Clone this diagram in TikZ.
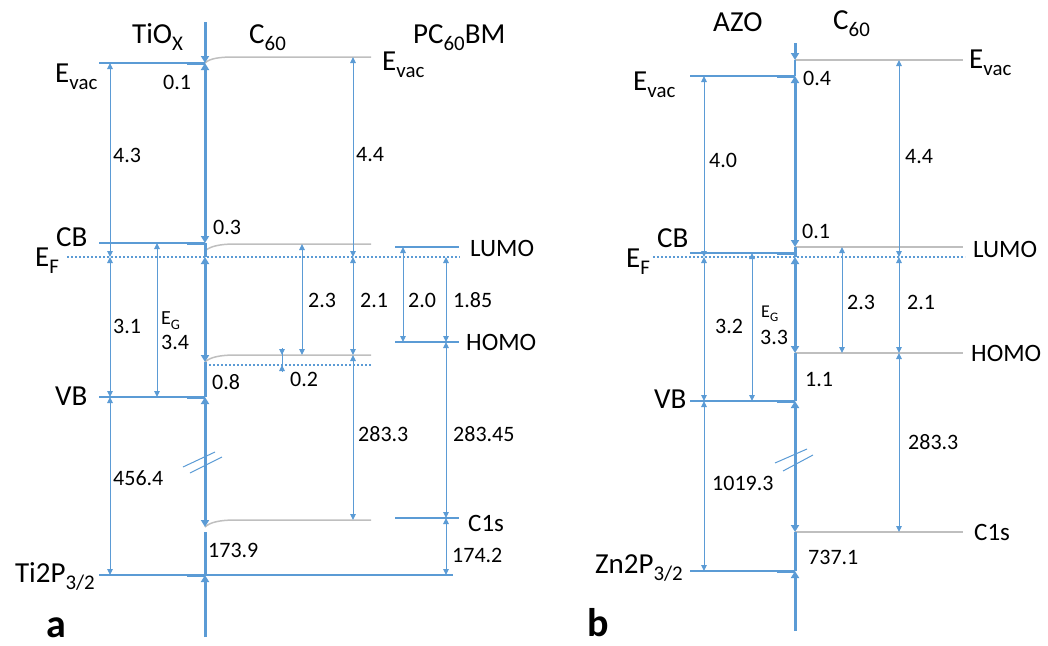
\documentclass[tikz,border=0pt]{standalone}
\usepackage{fontspec}
\setmainfont{Carlito}
\usepackage{graphicx}
\usetikzlibrary{arrows.meta}
\definecolor{lblue}{HTML}{5B9BD5}
\definecolor{lgray}{HTML}{BFBFBF}
\newcommand\lsub[1]{\raisebox{-0.27em}{\scalebox{0.72}{#1}}}
\tikzset{
 lvl/.style={draw=lblue, line width=1.6pt},
 stub/.style={draw=lblue, line width=3pt},
 glvl/.style={draw=lgray, line width=1.5pt},
 efl/.style={draw=lblue, line width=1.6pt, dash pattern=on 1.6pt off 2.4pt},
 mainl/.style={draw=lblue, line width=3pt},
 dim/.style={draw=lblue, line width=1pt, {Triangle[width=5.5pt,length=6pt]}-{Triangle[width=5.5pt,length=6pt]}},
 dimone/.style={draw=lblue, line width=1pt, -{Triangle[width=5.5pt,length=6pt]}},
 mtip/.style={-{Triangle[width=8pt,length=7pt]}},
 mboth/.style={{Triangle[width=8pt,length=7pt]}-{Triangle[width=8pt,length=7pt]}},
 num/.style={inner sep=0pt, anchor=west, font=\fontsize{22}{26}\selectfont},
 big/.style={inner sep=0pt, anchor=base west, font=\fontsize{29}{34}\selectfont},
 rlab/.style={inner sep=0pt, anchor=west, font=\fontsize{25}{30}\selectfont},
 eg/.style={inner sep=0pt, anchor=base west, font=\fontsize{20}{24}\selectfont},
 panel/.style={inner sep=0pt, anchor=base west, text depth=0pt, font=\bfseries\fontsize{40}{48}\selectfont},
 brk/.style={draw=lblue, line width=1pt},
}
\begin{document}
\begin{tikzpicture}[x=1pt,y=-1pt]
\useasboundingbox (0,0) rectangle (1048,645);
% ---------------- panel a ----------------
\coordinate (aM) at (205,0);
\coordinate (aC) at (235,0);
\coordinate (aL) at (99,0);
\coordinate (aSt) at (187,0);
\coordinate (aGR) at (371,0);
\coordinate (aPl) at (395,0);
\coordinate (aPr) at (459,0);
\coordinate (aTiR) at (453,0);
\coordinate (aEFl) at (67,0);
\coordinate (aEFr) at (460,0);
\coordinate (aX1) at (110,0);
\coordinate (aX2) at (157,0);
\coordinate (aX3) at (282,0);
\coordinate (aX4) at (302,0);
\coordinate (aX5) at (353,0);
\coordinate (aX6) at (403,0);
\coordinate (aX7) at (446,0);
\coordinate (aTop) at (0,22);
\coordinate (aEv) at (0,63);
\coordinate (aCEv) at (0,57);
\coordinate (aCB) at (0,243);
\coordinate (aLc) at (0,251);
\coordinate (aEF) at (0,257);
\coordinate (aLU) at (0,244);
\coordinate (aHO) at (0,355);
\coordinate (aHc) at (0,362);
\coordinate (aHd) at (0,365);
\coordinate (aZt) at (0,348);
\coordinate (aZb) at (0,372);
\coordinate (aVB) at (0,397);
\coordinate (aCs) at (0,520);
\coordinate (aCc) at (0,527);
\coordinate (aTi) at (0,575);
\coordinate (aBot) at (0,637);
\coordinate (aPL) at (0,247);
\coordinate (aPH) at (0,342);
\coordinate (aPC) at (0,518);

% gray C60 levels with band bending
\draw[glvl] (aM|-aEv) .. controls +(5,-5) and +(-14,0) .. (aC|-aCEv) -- (aGR|-aCEv);
\draw[glvl] (aM|-aLc) .. controls +(5,-5) and +(-14,0) .. (aC|-aLU) -- (aGR|-aLU);
\draw[glvl] (aM|-aHc) .. controls +(5,-5) and +(-14,0) .. (aC|-aHO) -- (aGR|-aHO);
\draw[glvl] (aM|-aCc) .. controls +(5,-5) and +(-14,0) .. (aC|-aCs) -- (aGR|-aCs);
% dotted lines
\draw[efl] (aEFl|-aEF) -- (aEFr|-aEF);
\draw[efl] (aM|-aHd) -- (aGR|-aHd);
% TiOx levels
\draw[lvl] (aL|-aEv) -- (aM|-aEv);
\draw[stub] (aSt|-aEv) -- (aM|-aEv);
\draw[lvl] (aL|-aCB) -- (aM|-aCB);
\draw[stub] (aSt|-aCB) -- (aM|-aCB);
\draw[lvl] (aL|-aVB) -- (aM|-aVB);
\draw[stub] (aSt|-aVB) -- (aM|-aVB);
\draw[lvl] (aL|-aTi) -- (aTiR|-aTi);
\draw[stub] (aSt|-aTi) -- (aM|-aTi);
% PCBM levels
\draw[lvl] (aPl|-aPL) -- (aPr|-aPL);
\draw[lvl] (aPl|-aPH) -- (aPr|-aPH);
\draw[lvl] (aPl|-aPC) -- (aPr|-aPC);
% main interface line
\draw[mainl, mtip] (aM|-aTop) -- (aM|-aEv);
\draw[mainl, mboth] (aM|-aEv) -- (aM|-aCB);
\draw[mainl] (aM|-aCB) -- (aM|-aEF);
\draw[mainl, mboth] (aM|-aEF) -- (aM|-aHc);
\draw[mainl] (aM|-aHc) -- (aM|-aVB);
\draw[mainl, mboth] (aM|-aVB) -- (aM|-aCc);
\draw[mainl, shorten <=5pt] (aM|-aCc) -- (aM|-aTi);
\draw[mainl, mtip] (aM|-aBot) -- (aM|-aTi);
\draw[brk] (183,467) -- (215,452);
\draw[brk] (190,473) -- (222,457);
% dimension arrows
\draw[dim] (aX1|-aEv) -- (aX1|-aEF);
\draw[dim] (aX1|-aEF) -- (aX1|-aVB);
\draw[dim] (aX1|-aVB) -- (aX1|-aTi);
\draw[dim] (aX2|-aCB) -- (aX2|-aVB);
\draw[dim] (aX4|-aLU) -- (aX4|-aHO);
\draw[draw=lblue, line width=1pt] (aX3|-aZt) -- (aX3|-aZb);
\draw[dimone] (aX3|-aZt) -- (aX3|-aHO);
\draw[dimone] (aX3|-aZb) -- (aX3|-aHd);
\draw[dim] (aX5|-aCEv) -- (aX5|-aEF);
\draw[dim] (aX5|-aEF) -- (aX5|-aHO);
\draw[dim] (aX5|-aHO) -- (aX5|-aCs);
\draw[dim] (aX6|-aPL) -- (aX6|-aPH);
\draw[dim] (aX7|-aEF) -- (aX7|-aPH);
\draw[dim] (aX7|-aPH) -- (aX7|-aPC);
\draw[dim] (aX7|-aPC) -- (aX7|-aTi);
% labels
\node[big] (aTiOx) at (132,43) {TiO\lsub{X}};
\node[big] (aC60) at (249,43) {C\lsub{60}};
\node[big] (aPCBM) at (413,43) {PC\lsub{60}BM};
\node[big] (aEvL) at (55,82) {E\lsub{vac}};
\node[big] (aEvR) at (382,70) {E\lsub{vac}};
\node[big] (aCBl) at (56,246) {CB};
\node[big] (aEFlab) at (35,266) {E\lsub{F}};
\node[big] (aVBl) at (55,405) {VB};
\node[big, anchor=base east] (aTil) at (95,582) {Ti2P\lsub{3/2}};
\node[rlab] (aLUl) at (470,248) {LUMO};
\node[rlab] (aHOl) at (466,342) {HOMO};
\node[rlab] (aCsl) at (468,523) {C1s};
\node[num] (an1) at (163,82) {0.1};
\node[num] (an2) at (113,155) {4.3};
\node[num] (an3) at (356,155) {4.4};
\node[num] (an4) at (213,227) {0.3};
\node[num] (an5) at (113,326) {3.1};
\node[eg] (aEG) at (161,324) {E\lsub{G}};
\node[num] (an6) at (161,342) {3.4};
\node[num] (an7) at (308,300) {2.3};
\node[num] (an8) at (360,300) {2.1};
\node[num] (an9) at (408,300) {2.0};
\node[num] (an10) at (453,300) {1.85};
\node[num] (an11) at (212,382) {0.8};
\node[num] (an12) at (290,379) {0.2};
\node[num] (an13) at (358,434) {283.3};
\node[num] (an14) at (453,434) {283.45};
\node[num] (an15) at (113,478) {456.4};
\node[num] (an16) at (208,550) {173.9};
\node[num] (an17) at (452,555) {174.2};
\node[panel] (aLab) at (46,637) {a};

% ---------------- panel b ----------------
\coordinate (bM) at (795,0);
\coordinate (bL) at (690,0);
\coordinate (bSt) at (777,0);
\coordinate (bGR) at (963,0);
\coordinate (bEFl) at (653,0);
\coordinate (bEFr) at (965,0);
\coordinate (bX1) at (704,0);
\coordinate (bX2) at (752,0);
\coordinate (bX3) at (842,0);
\coordinate (bX4) at (899,0);
\coordinate (bTop) at (0,43);
\coordinate (bCEv) at (0,60);
\coordinate (bEv) at (0,76);
\coordinate (bLU) at (0,247);
\coordinate (bCB) at (0,253);
\coordinate (bEF) at (0,257);
\coordinate (bHO) at (0,353);
\coordinate (bVB) at (0,401);
\coordinate (bCs) at (0,532);
\coordinate (bZn) at (0,571);
\coordinate (bBot) at (0,631);

\draw[glvl] (bM|-bCEv) -- (bGR|-bCEv);
\draw[glvl] (bM|-bLU) -- (bGR|-bLU);
\draw[glvl] (bM|-bHO) -- (bGR|-bHO);
\draw[glvl] (bM|-bCs) -- (bGR|-bCs);
\draw[efl] (bEFl|-bEF) -- (bEFr|-bEF);
\draw[lvl] (bL|-bEv) -- (bM|-bEv);
\draw[stub] (bSt|-bEv) -- (bM|-bEv);
\draw[lvl] (bL|-bCB) -- (bM|-bCB);
\draw[stub] (bSt|-bCB) -- (bM|-bCB);
\draw[lvl] (bL|-bVB) -- (bM|-bVB);
\draw[stub] (bSt|-bVB) -- (bM|-bVB);
\draw[lvl] (bL|-bZn) -- (bM|-bZn);
\draw[stub] (bSt|-bZn) -- (bM|-bZn);
\draw[mainl, mtip] (bM|-bTop) -- (bM|-bCEv);
\draw[draw=lblue, line width=1.5pt] (bM|-bCEv) -- (bM|-bEv);
\draw[mainl, mboth] (bM|-bEv) -- (bM|-bLU);
\draw[mainl] (bM|-bLU) -- (bM|-bEF);
\draw[mainl, mboth] (bM|-bEF) -- (bM|-bHO);
\draw[mainl] (bM|-bHO) -- (bM|-bVB);
\draw[mainl, mboth] (bM|-bVB) -- (bM|-bCs);
\draw[mainl] (bM|-bCs) -- (bM|-bZn);
\draw[mainl, mtip] (bM|-bBot) -- (bM|-bZn);
\draw[brk] (775,463) -- (807,449);
\draw[brk] (783,471) -- (813,455);
\draw[dim] (bX1|-bEv) -- (bX1|-bEF);
\draw[dim] (bX1|-bEF) -- (bX1|-bVB);
\draw[dim] (bX1|-bVB) -- (bX1|-bZn);
\draw[dim] (bX2|-bCB) -- (bX2|-bVB);
\draw[dim] (bX3|-bLU) -- (bX3|-bHO);
\draw[dim] (bX4|-bCEv) -- (bX4|-bEF);
\draw[dim] (bX4|-bEF) -- (bX4|-bHO);
\draw[dim] (bX4|-bHO) -- (bX4|-bCs);
% labels
\node[big] (bAZO) at (713,31) {AZO};
\node[big] (bC60) at (833,29) {C\lsub{60}};
\node[big] (bEvL) at (633,90) {E\lsub{vac}};
\node[big] (bEvR) at (969,68) {E\lsub{vac}};
\node[big] (bCBl) at (657,247) {CB};
\node[big] (bEFlab) at (626,267) {E\lsub{F}};
\node[big] (bVBl) at (654,408) {VB};
\node[big, anchor=base east] (bZnl) at (683,573) {Zn2P\lsub{3/2}};
\node[rlab] (bLUl) at (973,249) {LUMO};
\node[rlab] (bHOl) at (971,353) {HOMO};
\node[rlab] (bCsl) at (974,532) {C1s};
\node[num] (bn1) at (803,78) {0.4};
\node[num] (bn2) at (709,160) {4.0};
\node[num] (bn3) at (905,157) {4.4};
\node[num] (bn4) at (802,231) {0.1};
\node[num] (bn5) at (715,326) {3.2};
\node[eg, font=\fontsize{18}{22}\selectfont] (bEG) at (761,317) {E\lsub{G}};
\node[num] (bn6) at (760,337) {3.3};
\node[num] (bn7) at (847,302) {2.3};
\node[num] (bn8) at (907,302) {2.1};
\node[num] (bn9) at (805,380) {1.1};
\node[num] (bn10) at (908,442) {283.3};
\node[num] (bn11) at (712,483) {1019.3};
\node[num] (bn12) at (808,557) {737.1};
\node[panel] (bLab) at (587,636) {b};
\end{tikzpicture}
\end{document}
